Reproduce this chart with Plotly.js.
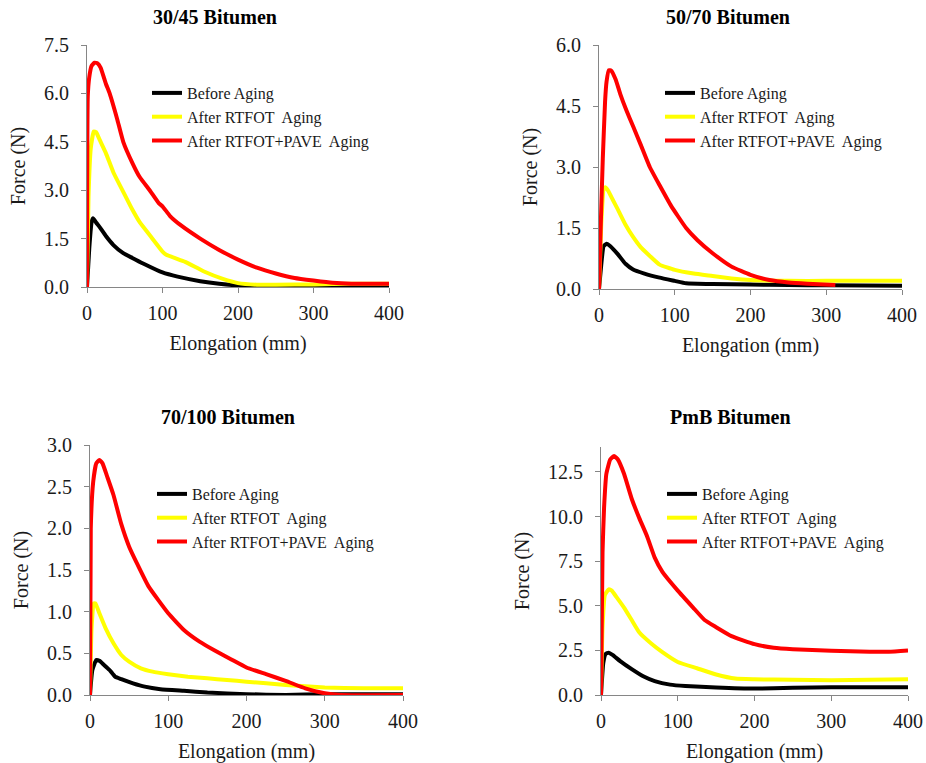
<!DOCTYPE html>
<html>
<head>
<meta charset="utf-8">
<script src="https://cdn.plot.ly/plotly-3.0.1.min.js"></script>
<style>html,body{margin:0;padding:0;background:#fff;}#chart{width:926px;height:763px;}</style>
</head>
<body>
<div id="chart"></div>
<script>
// ---- Data ----
const seriesNames = ["Before Aging", "After RTFOT\u00a0 Aging", "After RTFOT+PAVE\u00a0 Aging"];
const seriesColors = ["#000000", "#FFFF00", "#FF0000"];
const panelTitles = ["30/45 Bitumen", "50/70 Bitumen", "70/100 Bitumen", "PmB Bitumen"];

// 30/45 Bitumen
const b3045_before_x = [0,3,6,8,12,17,25,35,48,60,75,100,120,150,175,200,250,300,400];
const b3045_before_y = [0,1.2,2.0,2.13,2.0,1.85,1.58,1.3,1.05,0.9,0.72,0.45,0.32,0.18,0.1,0.05,0.03,0.02,0.0];
const b3045_rtfot_x = [0,2,5,9,12,17,25,35,48,60,70,85,100,105,130,155,180,200,225,250,300,350,400];
const b3045_rtfot_y = [0,2.8,4.3,4.82,4.8,4.55,4.15,3.55,2.95,2.4,2.0,1.55,1.1,1.0,0.78,0.48,0.25,0.12,0.07,0.07,0.08,0.1,0.1];
const b3045_pave_x = [0,1,3,6,10,14,18,25,30,40,48,60,70,83,95,100,110,125,150,175,200,225,250,275,300,325,350,400];
const b3045_pave_y = [0,5.9,6.5,6.85,6.95,6.93,6.8,6.3,6.0,5.2,4.5,3.85,3.4,3.0,2.6,2.5,2.2,1.9,1.5,1.15,0.85,0.6,0.42,0.28,0.2,0.13,0.1,0.1];

// 50/70 Bitumen
const b5070_before_x = [0,3,6,10,15,25,35,45,60,80,100,115,150,200,250,300,400];
const b5070_before_y = [0,0.6,1.05,1.11,1.05,0.85,0.62,0.48,0.38,0.28,0.2,0.14,0.12,0.11,0.1,0.09,0.08];
const b5070_rtfot_x = [0,3,6,8,12,18,25,35,45,55,65,80,100,125,150,175,200,250,300,400];
const b5070_rtfot_y = [0,1.6,2.45,2.5,2.42,2.2,1.95,1.58,1.28,1.03,0.85,0.6,0.47,0.38,0.32,0.26,0.22,0.2,0.2,0.2];
const b5070_pave_x = [0,3,5,8,10,13,16,22,28,36,45,55,67,80,95,115,130,150,175,200,225,250,275,312];
const b5070_pave_y = [0,2.0,3.2,4.6,5.1,5.38,5.37,5.15,4.8,4.4,4.0,3.55,3.0,2.55,2.05,1.5,1.2,0.88,0.55,0.35,0.22,0.16,0.13,0.1];

// 70/100 Bitumen
const b70100_before_x = [0,3,8,12,18,25,32,40,55,70,90,120,150,200,250,300,400];
const b70100_before_y = [0,0.3,0.42,0.41,0.36,0.3,0.22,0.19,0.14,0.1,0.07,0.05,0.03,0.01,0.0,0.01,0.01];
const b70100_rtfot_x = [0,2,5,7,12,20,30,40,50,65,80,100,125,150,175,200,250,300,350,400];
const b70100_rtfot_y = [0,0.8,1.1,1.1,0.98,0.8,0.62,0.48,0.4,0.32,0.28,0.25,0.22,0.2,0.18,0.16,0.12,0.09,0.08,0.08];
const b70100_pave_x = [0,1,4,8,12,16,22,30,40,50,60,75,100,120,140,160,180,200,225,250,275,300,320,400];
const b70100_pave_y = [0,2.0,2.55,2.78,2.82,2.78,2.62,2.4,2.05,1.78,1.58,1.3,0.98,0.78,0.64,0.53,0.43,0.33,0.25,0.17,0.08,0.02,0.0,0.0];

// PmB Bitumen
const pmb_before_x = [0,3,6,10,15,25,40,55,70,90,110,150,200,250,300,400];
const pmb_before_y = [0,1.8,2.3,2.37,2.25,1.9,1.45,1.05,0.78,0.58,0.5,0.42,0.36,0.4,0.43,0.44];
const pmb_rtfot_x = [0,2,5,10,14,20,30,40,50,65,80,100,125,150,175,200,250,300,350,400];
const pmb_rtfot_y = [0,3.8,5.6,5.92,5.85,5.5,4.9,4.2,3.5,2.9,2.4,1.85,1.5,1.15,0.92,0.88,0.85,0.83,0.85,0.88];
const pmb_pave_x = [0,2,4,7,12,17,22,30,40,50,60,70,80,100,120,135,150,170,200,225,250,300,350,375,400];
const pmb_pave_y = [0,8,10.5,12.4,13.2,13.4,13.2,12.4,11.0,9.9,8.9,7.7,6.9,5.85,4.9,4.2,3.8,3.3,2.85,2.65,2.57,2.48,2.42,2.43,2.5];

const xTickVals = [0,100,200,300,400];
const yTickVals = [
  [0,1.5,3.0,4.5,6.0,7.5],
  [0,1.5,3.0,4.5,6.0],
  [0,0.5,1.0,1.5,2.0,2.5,3.0],
  [0,2.5,5.0,7.5,10.0,12.5]
];
const yMax = [7.5, 6.0, 3.0, 13.9];

const panels = [
  [[b3045_before_x,b3045_before_y],[b3045_rtfot_x,b3045_rtfot_y],[b3045_pave_x,b3045_pave_y]],
  [[b5070_before_x,b5070_before_y],[b5070_rtfot_x,b5070_rtfot_y],[b5070_pave_x,b5070_pave_y]],
  [[b70100_before_x,b70100_before_y],[b70100_rtfot_x,b70100_rtfot_y],[b70100_pave_x,b70100_pave_y]],
  [[pmb_before_x,pmb_before_y],[pmb_rtfot_x,pmb_rtfot_y],[pmb_pave_x,pmb_pave_y]]
];

// ---- Layout geometry (pixels) ----
const W = 926, H = 763;
const boxes = [
  {l:87, r:389, t:45, b:287},
  {l:599, r:902, t:45, b:289},
  {l:90, r:403, t:445, b:695},
  {l:601, r:908, t:447, b:695}
];
const legendPos = [
  {x:147, y:76},
  {x:660, y:76},
  {x:152, y:477},
  {x:662, y:477}
];
const titlePos = [
  {x:215, y:17},
  {x:728, y:17},
  {x:228, y:417},
  {x:730, y:417}
];

const FONT = "Liberation Serif, Times New Roman, serif";
const traces = [];
const layout = {
  width: W, height: H,
  margin: {l:0, r:0, t:0, b:0},
  paper_bgcolor: "#ffffff",
  plot_bgcolor: "#ffffff",
  showlegend: true,
  font: {family: FONT, size: 20, color: "#1a1a1a"},
  annotations: []
};

panels.forEach((panel, p) => {
  const sfx = p === 0 ? "" : String(p + 1);
  const legName = "legend" + sfx;
  panel.forEach((s, i) => {
    traces.push({
      type: "scatter", mode: "lines",
      x: s[0], y: s[1],
      name: seriesNames[i],
      line: {color: seriesColors[i], width: 4, shape: "spline", smoothing: 0.4},
      xaxis: "x" + sfx, yaxis: "y" + sfx,
      legend: legName,
      hoverinfo: "skip"
    });
  });
  const bx = boxes[p];
  const axCommon = {
    showgrid: false, zeroline: false,
    showline: true, linecolor: "#868686", linewidth: 1,
    ticks: "outside", ticklen: 5, tickcolor: "#868686", tickwidth: 1,
    tickfont: {family: FONT, size: 20, color: "#1a1a1a"},
    fixedrange: true
  };
  layout["xaxis" + sfx] = Object.assign({}, axCommon, {
    domain: [bx.l / W, bx.r / W],
    range: [0, 400],
    tickvals: xTickVals,
    anchor: "y" + sfx,
    ticklabelstandoff: 3,
    title: {text: "Elongation (mm)", font: {family: FONT, size: 20, color: "#1a1a1a"}, standoff: 12}
  });
  layout["yaxis" + sfx] = Object.assign({}, axCommon, {
    domain: [1 - bx.b / H, 1 - bx.t / H],
    range: [0, yMax[p]],
    tickvals: yTickVals[p],
    tickformat: ".1f",
    anchor: "x" + sfx,
    ticklabelstandoff: 8,
    title: {text: "Force (N)", font: {family: FONT, size: 20, color: "#1a1a1a"}, standoff: 13}
  });
  const lp = legendPos[p];
  layout[legName] = {
    x: lp.x / W, y: 1 - lp.y / H,
    xanchor: "left", yanchor: "top",
    bgcolor: "rgba(0,0,0,0)",
    borderwidth: 0,
    font: {family: FONT, size: 16, color: "#1a1a1a"},
    tracegroupgap: 0,
    itemwidth: 30
  };
  const tp = titlePos[p];
  layout.annotations.push({
    xref: "paper", yref: "paper",
    x: tp.x / W, y: 1 - tp.y / H,
    xanchor: "center", yanchor: "middle",
    showarrow: false,
    text: "<b>" + panelTitles[p] + "</b>",
    font: {family: FONT, size: 20, color: "#000000"}
  });
});

Plotly.newPlot("chart", traces, layout, {staticPlot: true, displayModeBar: false});
</script>
</body>
</html>
